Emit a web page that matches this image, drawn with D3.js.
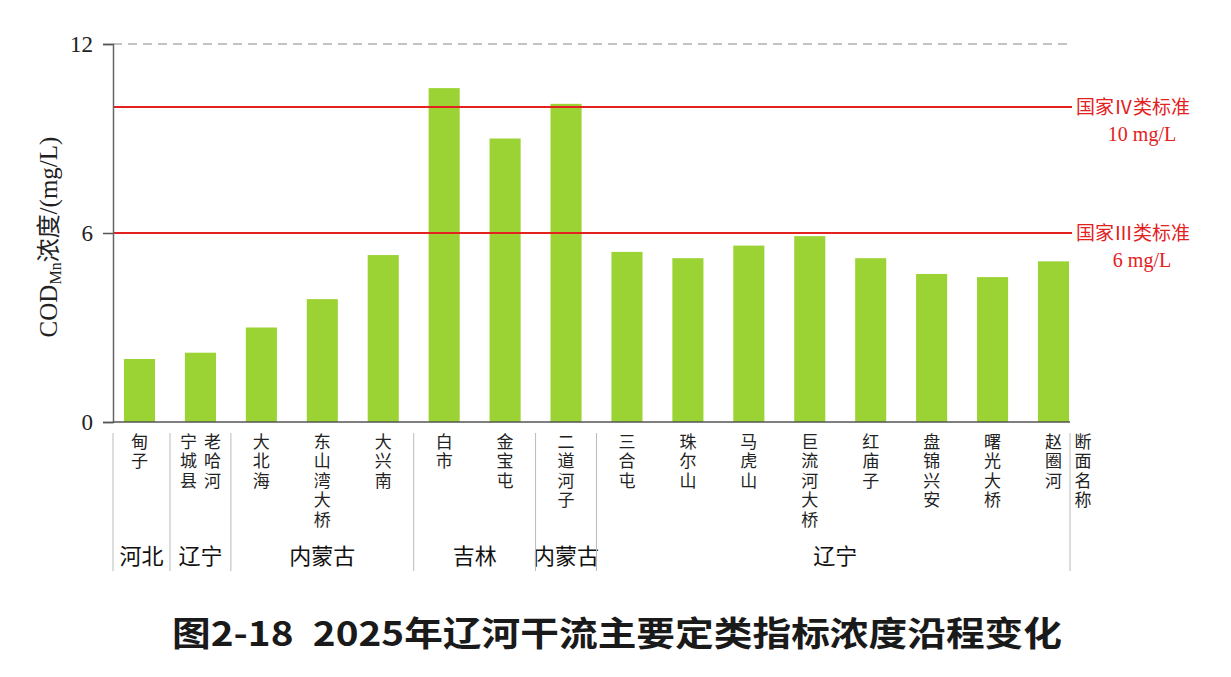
<!DOCTYPE html>
<html>
<head>
<meta charset="utf-8">
<script src="https://cdn.jsdelivr.net/npm/d3@7"></script>
<style>
  body { margin: 0; background: #fff; }
  svg { display: block; }
</style>
</head>
<body>
<div id="chart"></div>
<script>
// 断面名称 (each label is split into vertical columns, right to left)
const sections = ['甸子', '老哈河/宁城县', '大北海', '东山湾大桥', '大兴南', '白市', '金宝屯', '二道河子',
  '三合屯', '珠尔山', '马虎山', '巨流河大桥', '红庙子', '盘锦兴安', '曙光大桥', '赵圈河'];
const codValues = [2.0, 2.2, 3.0, 3.9, 5.3, 10.6, 9.0, 10.1, 5.4, 5.2, 5.6, 5.9, 5.2, 4.7, 4.6, 5.1];

const regionNames = ['河北', '辽宁', '内蒙古', '吉林', '内蒙古', '辽宁'];
const regionSizes = [1, 1, 3, 2, 1, 8];

const yTicks = [0, 6, 12];
const standardValues = [10, 6];
const standardNames = ['国家Ⅳ类标准', '国家Ⅲ类标准'];
const standardLabels = ['10 mg/L', '6 mg/L'];

const width = 1231, height = 677;
const red = '#e3211f';
const serif = '"Liberation Serif", "Noto Sans CJK SC", serif';
const cjk = '"Noto Sans CJK SC", sans-serif';

const svg = d3.select('#chart').append('svg')
  .attr('width', width)
  .attr('height', height);

const x = d3.scaleBand()
  .domain(sections)
  .range([113, 1080])
  .paddingInner(0.49)
  .paddingOuter(0.18);

const y = d3.scaleLinear()
  .domain([0, 12])
  .range([422, 44]);

const xEnd = x(sections[sections.length - 1]) + x.bandwidth() + 1;

// dashed top line
svg.append('line')
  .attr('x1', 113).attr('x2', xEnd - 2)
  .attr('y1', y(12)).attr('y2', y(12))
  .attr('stroke', '#b0b0b0')
  .attr('stroke-width', 1.5)
  .attr('stroke-dasharray', '9,6');

// bars
svg.selectAll('rect.bar')
  .data(codValues)
  .enter()
  .append('rect')
  .attr('class', 'bar')
  .attr('x', (d, i) => x(sections[i]))
  .attr('y', d => y(d))
  .attr('width', x.bandwidth())
  .attr('height', d => y(0) - y(d))
  .attr('fill', '#9cd334');

// standard lines
standardValues.forEach((v, i) => {
  svg.append('line')
    .attr('x1', 113).attr('x2', xEnd + 2)
    .attr('y1', y(v)).attr('y2', y(v))
    .attr('stroke', red)
    .attr('stroke-width', 2);
  svg.append('text')
    .attr('x', xEnd + 6)
    .attr('y', y(v) + 7)
    .attr('fill', red)
    .attr('font-family', cjk)
    .attr('font-size', 19)
    .text(standardNames[i]);
  svg.append('text')
    .attr('x', xEnd + 72)
    .attr('y', y(v) + 34)
    .attr('text-anchor', 'middle')
    .attr('fill', red)
    .attr('font-family', serif)
    .attr('font-size', 20)
    .text(standardLabels[i]);
});

// y axis
const yAxis = d3.axisLeft(y)
  .tickValues(yTicks)
  .tickSize(10)
  .tickPadding(10);

const gy = svg.append('g')
  .attr('transform', 'translate(113,0)')
  .call(yAxis);
gy.select('.domain').attr('stroke', '#666').attr('stroke-width', 1.5);
gy.selectAll('.tick line').attr('stroke', '#555').attr('stroke-width', 1.5);
gy.selectAll('.tick text')
  .attr('font-family', serif)
  .attr('font-size', 23)
  .attr('fill', '#222');

// x baseline
svg.append('line')
  .attr('x1', 113).attr('x2', xEnd)
  .attr('y1', y(0)).attr('y2', y(0))
  .attr('stroke', '#555')
  .attr('stroke-width', 1.5);

// y axis title
const yTitle = svg.append('text')
  .attr('transform', 'translate(57,237) rotate(-90)')
  .attr('text-anchor', 'middle')
  .attr('font-family', serif)
  .attr('font-size', 25)
  .attr('fill', '#222');
yTitle.append('tspan').text('COD');
yTitle.append('tspan').attr('font-size', 16).attr('dy', 4).text('Mn');
yTitle.append('tspan').attr('dy', -4).attr('font-family', cjk).attr('font-size', 24).text('浓度');
yTitle.append('tspan').text('/(mg/L)');

// vertical section labels, one text per column
function verticalText(txt, cx) {
  svg.append('text')
    .attr('x', cx)
    .attr('y', 433)
    .attr('writing-mode', 'vertical-rl')
    .attr('font-family', cjk)
    .attr('font-size', 17)
    .attr('letter-spacing', 2.4)
    .attr('fill', '#222')
    .text(txt);
}

sections.forEach(name => {
  const cols = name.split('/');
  const cx = x(name) + x.bandwidth() / 2;
  cols.forEach((col, ci) => {
    verticalText(col, cols.length > 1 ? cx + 12 - ci * 24 : cx);
  });
});
verticalText('断面名称', xEnd + 13);

// region separators and names
const gap = x.step() - x.bandwidth();
let start = 0;
const seps = [113];
regionNames.forEach((r, i) => {
  const first = sections[start];
  const last = sections[start + regionSizes[i] - 1];
  const left = i === 0 ? 113 : x(first) - gap / 2;
  const right = i === regionNames.length - 1 ? xEnd : x(last) + x.bandwidth() + gap / 2;
  seps.push(right);
  let cx = (left + right) / 2;
  if (i === regionNames.length - 1) cx = x('巨流河大桥') + x.bandwidth() + 10;
  svg.append('text')
    .attr('x', cx)
    .attr('y', 564)
    .attr('text-anchor', 'middle')
    .attr('font-family', cjk)
    .attr('font-size', 22)
    .attr('fill', '#111')
    .text(r);
  start += regionSizes[i];
});

svg.selectAll('line.sep')
  .data(seps)
  .enter()
  .append('line')
  .attr('class', 'sep')
  .attr('x1', d => d).attr('x2', d => d)
  .attr('y1', 433).attr('y2', 571)
  .attr('stroke', '#bbb')
  .attr('stroke-width', 1);

// caption
svg.append('text')
  .attr('x', 617)
  .attr('y', 646)
  .attr('text-anchor', 'middle')
  .attr('font-family', cjk)
  .attr('font-weight', 600)
  .attr('font-size', 34)
  .attr('textLength', 890)
  .attr('lengthAdjust', 'spacingAndGlyphs')
  .attr('fill', '#1a1a1a')
  .text('图2-18\u20022025年辽河干流主要定类指标浓度沿程变化');
</script>
</body>
</html>
